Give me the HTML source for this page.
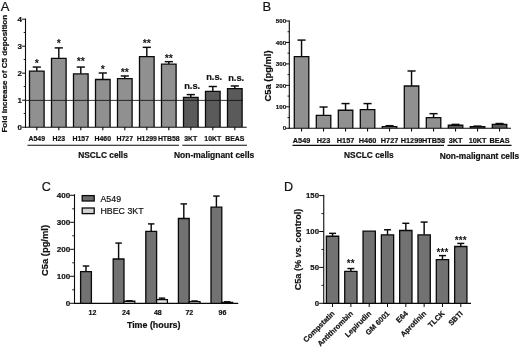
<!DOCTYPE html>
<html><head><meta charset="utf-8"><title>Figure</title>
<style>html,body{margin:0;padding:0;background:#fff}svg{display:block;will-change:transform}</style></head>
<body>
<svg width="520" height="348" viewBox="0 0 520 348" font-family="Liberation Sans, Arial, sans-serif" stroke="#111" stroke-width="0.2">
<rect width="520" height="348" fill="#fff" stroke="none"/>
<text x="0.80" y="10.70" font-size="13" font-weight="normal" text-anchor="start" fill="#111" >A</text>
<text transform="translate(7.00,73.70) rotate(-90)" font-size="8.1" font-weight="bold" text-anchor="middle" fill="#111">Fold increase of C5 deposition</text>
<line x1="36.80" y1="71.11" x2="36.80" y2="67.06" stroke="#0a0a0a" stroke-width="1.45"/>
<line x1="32.71" y1="67.06" x2="40.89" y2="67.06" stroke="#0a0a0a" stroke-width="1.45"/>
<rect x="29.50" y="71.11" width="14.60" height="55.89" fill="#909090" stroke="none"/>
<polyline points="29.50,127.00 29.50,71.11 44.10,71.11 44.10,127.00" fill="none" stroke="#0a0a0a" stroke-width="1.3" stroke-linejoin="miter"/>
<line x1="36.80" y1="127.00" x2="36.80" y2="130.20" stroke="#0a0a0a" stroke-width="1.1"/>
<text x="36.80" y="141.40" font-size="6.9" font-weight="bold" text-anchor="middle" fill="#111" >A549</text>
<text x="36.80" y="67.06" font-size="10.6" font-weight="bold" text-anchor="middle" fill="#111" stroke="none">*</text>
<line x1="58.80" y1="58.42" x2="58.80" y2="47.89" stroke="#0a0a0a" stroke-width="1.45"/>
<line x1="54.71" y1="47.89" x2="62.89" y2="47.89" stroke="#0a0a0a" stroke-width="1.45"/>
<rect x="51.50" y="58.42" width="14.60" height="68.58" fill="#909090" stroke="none"/>
<polyline points="51.50,127.00 51.50,58.42 66.10,58.42 66.10,127.00" fill="none" stroke="#0a0a0a" stroke-width="1.3" stroke-linejoin="miter"/>
<line x1="58.80" y1="127.00" x2="58.80" y2="130.20" stroke="#0a0a0a" stroke-width="1.1"/>
<text x="58.80" y="141.40" font-size="6.9" font-weight="bold" text-anchor="middle" fill="#111" >H23</text>
<text x="58.80" y="46.89" font-size="10.6" font-weight="bold" text-anchor="middle" fill="#111" stroke="none">*</text>
<line x1="80.80" y1="73.81" x2="80.80" y2="67.06" stroke="#0a0a0a" stroke-width="1.45"/>
<line x1="76.71" y1="67.06" x2="84.89" y2="67.06" stroke="#0a0a0a" stroke-width="1.45"/>
<rect x="73.50" y="73.81" width="14.60" height="53.19" fill="#909090" stroke="none"/>
<polyline points="73.50,127.00 73.50,73.81 88.10,73.81 88.10,127.00" fill="none" stroke="#0a0a0a" stroke-width="1.3" stroke-linejoin="miter"/>
<line x1="80.80" y1="127.00" x2="80.80" y2="130.20" stroke="#0a0a0a" stroke-width="1.1"/>
<text x="80.80" y="141.40" font-size="6.9" font-weight="bold" text-anchor="middle" fill="#111" >H157</text>
<text x="80.80" y="64.96" font-size="10.6" font-weight="bold" text-anchor="middle" fill="#111" stroke="none">**</text>
<line x1="102.80" y1="79.48" x2="102.80" y2="73.00" stroke="#0a0a0a" stroke-width="1.45"/>
<line x1="98.71" y1="73.00" x2="106.89" y2="73.00" stroke="#0a0a0a" stroke-width="1.45"/>
<rect x="95.50" y="79.48" width="14.60" height="47.52" fill="#909090" stroke="none"/>
<polyline points="95.50,127.00 95.50,79.48 110.10,79.48 110.10,127.00" fill="none" stroke="#0a0a0a" stroke-width="1.3" stroke-linejoin="miter"/>
<line x1="102.80" y1="127.00" x2="102.80" y2="130.20" stroke="#0a0a0a" stroke-width="1.1"/>
<text x="102.80" y="141.40" font-size="6.9" font-weight="bold" text-anchor="middle" fill="#111" >H460</text>
<text x="102.80" y="72.80" font-size="10.6" font-weight="bold" text-anchor="middle" fill="#111" stroke="none">*</text>
<line x1="124.80" y1="78.67" x2="124.80" y2="75.97" stroke="#0a0a0a" stroke-width="1.45"/>
<line x1="120.71" y1="75.97" x2="128.89" y2="75.97" stroke="#0a0a0a" stroke-width="1.45"/>
<rect x="117.50" y="78.67" width="14.60" height="48.33" fill="#909090" stroke="none"/>
<polyline points="117.50,127.00 117.50,78.67 132.10,78.67 132.10,127.00" fill="none" stroke="#0a0a0a" stroke-width="1.3" stroke-linejoin="miter"/>
<line x1="124.80" y1="127.00" x2="124.80" y2="130.20" stroke="#0a0a0a" stroke-width="1.1"/>
<text x="124.80" y="141.40" font-size="6.9" font-weight="bold" text-anchor="middle" fill="#111" >H727</text>
<text x="124.80" y="76.27" font-size="10.6" font-weight="bold" text-anchor="middle" fill="#111" stroke="none">**</text>
<line x1="146.80" y1="56.53" x2="146.80" y2="47.35" stroke="#0a0a0a" stroke-width="1.45"/>
<line x1="142.71" y1="47.35" x2="150.89" y2="47.35" stroke="#0a0a0a" stroke-width="1.45"/>
<rect x="139.50" y="56.53" width="14.60" height="70.47" fill="#909090" stroke="none"/>
<polyline points="139.50,127.00 139.50,56.53 154.10,56.53 154.10,127.00" fill="none" stroke="#0a0a0a" stroke-width="1.3" stroke-linejoin="miter"/>
<line x1="146.80" y1="127.00" x2="146.80" y2="130.20" stroke="#0a0a0a" stroke-width="1.1"/>
<text x="146.80" y="141.40" font-size="6.9" font-weight="bold" text-anchor="middle" fill="#111" >H1299</text>
<text x="146.80" y="46.55" font-size="10.6" font-weight="bold" text-anchor="middle" fill="#111" stroke="none">**</text>
<line x1="168.80" y1="64.09" x2="168.80" y2="61.66" stroke="#0a0a0a" stroke-width="1.45"/>
<line x1="164.71" y1="61.66" x2="172.89" y2="61.66" stroke="#0a0a0a" stroke-width="1.45"/>
<rect x="161.50" y="64.09" width="14.60" height="62.91" fill="#909090" stroke="none"/>
<polyline points="161.50,127.00 161.50,64.09 176.10,64.09 176.10,127.00" fill="none" stroke="#0a0a0a" stroke-width="1.3" stroke-linejoin="miter"/>
<line x1="168.80" y1="127.00" x2="168.80" y2="130.20" stroke="#0a0a0a" stroke-width="1.1"/>
<text x="168.80" y="141.40" font-size="6.9" font-weight="bold" text-anchor="middle" fill="#111" >HTB58</text>
<text x="168.80" y="61.76" font-size="10.6" font-weight="bold" text-anchor="middle" fill="#111" stroke="none">**</text>
<line x1="190.80" y1="97.30" x2="190.80" y2="94.60" stroke="#0a0a0a" stroke-width="1.45"/>
<line x1="186.71" y1="94.60" x2="194.89" y2="94.60" stroke="#0a0a0a" stroke-width="1.45"/>
<rect x="183.50" y="97.30" width="14.60" height="29.70" fill="#5a5a5a" stroke="none"/>
<polyline points="183.50,127.00 183.50,97.30 198.10,97.30 198.10,127.00" fill="none" stroke="#0a0a0a" stroke-width="1.3" stroke-linejoin="miter"/>
<line x1="190.80" y1="127.00" x2="190.80" y2="130.20" stroke="#0a0a0a" stroke-width="1.1"/>
<text x="190.80" y="141.40" font-size="6.9" font-weight="bold" text-anchor="middle" fill="#111" >3KT</text>
<text x="192.20" y="88.90" font-size="9.3" font-weight="bold" text-anchor="middle" fill="#111" >n.s.</text>
<line x1="212.80" y1="91.36" x2="212.80" y2="86.50" stroke="#0a0a0a" stroke-width="1.45"/>
<line x1="208.71" y1="86.50" x2="216.89" y2="86.50" stroke="#0a0a0a" stroke-width="1.45"/>
<rect x="205.50" y="91.36" width="14.60" height="35.64" fill="#5a5a5a" stroke="none"/>
<polyline points="205.50,127.00 205.50,91.36 220.10,91.36 220.10,127.00" fill="none" stroke="#0a0a0a" stroke-width="1.3" stroke-linejoin="miter"/>
<line x1="212.80" y1="127.00" x2="212.80" y2="130.20" stroke="#0a0a0a" stroke-width="1.1"/>
<text x="212.80" y="141.40" font-size="6.9" font-weight="bold" text-anchor="middle" fill="#111" >10KT</text>
<text x="214.20" y="79.80" font-size="9.3" font-weight="bold" text-anchor="middle" fill="#111" >n.s.</text>
<line x1="234.80" y1="88.66" x2="234.80" y2="85.96" stroke="#0a0a0a" stroke-width="1.45"/>
<line x1="230.71" y1="85.96" x2="238.89" y2="85.96" stroke="#0a0a0a" stroke-width="1.45"/>
<rect x="227.50" y="88.66" width="14.60" height="38.34" fill="#5a5a5a" stroke="none"/>
<polyline points="227.50,127.00 227.50,88.66 242.10,88.66 242.10,127.00" fill="none" stroke="#0a0a0a" stroke-width="1.3" stroke-linejoin="miter"/>
<line x1="234.80" y1="127.00" x2="234.80" y2="130.20" stroke="#0a0a0a" stroke-width="1.1"/>
<text x="234.80" y="141.40" font-size="6.9" font-weight="bold" text-anchor="middle" fill="#111" >BEAS</text>
<text x="236.20" y="80.66" font-size="9.3" font-weight="bold" text-anchor="middle" fill="#111" >n.s.</text>
<line x1="25.50" y1="18.50" x2="25.50" y2="127.50" stroke="#0a0a0a" stroke-width="1.1"/>
<line x1="25.00" y1="127.30" x2="246.70" y2="127.30" stroke="#0a0a0a" stroke-width="1.1"/>
<line x1="25.50" y1="100.40" x2="243.00" y2="100.40" stroke="#0a0a0a" stroke-width="0.8"/>
<line x1="22.10" y1="127.20" x2="25.50" y2="127.20" stroke="#0a0a0a" stroke-width="1.0"/>
<text x="21.90" y="129.80" font-size="8" font-weight="bold" text-anchor="end" fill="#111" >0</text>
<line x1="22.10" y1="100.20" x2="25.50" y2="100.20" stroke="#0a0a0a" stroke-width="1.0"/>
<text x="21.90" y="102.80" font-size="8" font-weight="bold" text-anchor="end" fill="#111" >1</text>
<line x1="22.10" y1="73.20" x2="25.50" y2="73.20" stroke="#0a0a0a" stroke-width="1.0"/>
<text x="21.90" y="75.80" font-size="8" font-weight="bold" text-anchor="end" fill="#111" >2</text>
<line x1="22.10" y1="46.20" x2="25.50" y2="46.20" stroke="#0a0a0a" stroke-width="1.0"/>
<text x="21.90" y="48.80" font-size="8" font-weight="bold" text-anchor="end" fill="#111" >3</text>
<line x1="22.10" y1="19.20" x2="25.50" y2="19.20" stroke="#0a0a0a" stroke-width="1.0"/>
<text x="21.90" y="21.80" font-size="8" font-weight="bold" text-anchor="end" fill="#111" >4</text>
<line x1="23.70" y1="113.50" x2="25.50" y2="113.50" stroke="#0a0a0a" stroke-width="0.9"/>
<line x1="23.70" y1="86.50" x2="25.50" y2="86.50" stroke="#0a0a0a" stroke-width="0.9"/>
<line x1="23.70" y1="59.50" x2="25.50" y2="59.50" stroke="#0a0a0a" stroke-width="0.9"/>
<line x1="23.70" y1="32.50" x2="25.50" y2="32.50" stroke="#0a0a0a" stroke-width="0.9"/>
<line x1="27.50" y1="145.30" x2="179.00" y2="145.30" stroke="#0a0a0a" stroke-width="1.1"/>
<line x1="182.30" y1="145.30" x2="247.00" y2="145.30" stroke="#0a0a0a" stroke-width="1.1"/>
<text x="103.00" y="158.00" font-size="8.35" font-weight="bold" text-anchor="middle" fill="#111" >NSCLC cells</text>
<text x="214.10" y="158.00" font-size="8.45" font-weight="bold" text-anchor="middle" fill="#111" >Non-malignant cells</text>
<text x="262.40" y="10.90" font-size="13" font-weight="normal" text-anchor="start" fill="#111" >B</text>
<text transform="translate(270.80,76.00) rotate(-90)" font-size="9.4" font-weight="bold" text-anchor="middle" fill="#111">C5a (pg/ml)</text>
<line x1="301.55" y1="56.61" x2="301.55" y2="40.09" stroke="#0a0a0a" stroke-width="1.45"/>
<line x1="297.49" y1="40.09" x2="305.61" y2="40.09" stroke="#0a0a0a" stroke-width="1.45"/>
<rect x="294.30" y="56.61" width="14.50" height="71.64" fill="#909090" stroke="none"/>
<polyline points="294.30,128.25 294.30,56.61 308.80,56.61 308.80,128.25" fill="none" stroke="#0a0a0a" stroke-width="1.3" stroke-linejoin="miter"/>
<line x1="301.55" y1="128.25" x2="301.55" y2="131.45" stroke="#0a0a0a" stroke-width="1.1"/>
<text x="301.55" y="142.80" font-size="7.3" font-weight="bold" text-anchor="middle" fill="#111" >A549</text>
<line x1="323.55" y1="115.38" x2="323.55" y2="107.01" stroke="#0a0a0a" stroke-width="1.45"/>
<line x1="319.49" y1="107.01" x2="327.61" y2="107.01" stroke="#0a0a0a" stroke-width="1.45"/>
<rect x="316.30" y="115.38" width="14.50" height="12.87" fill="#909090" stroke="none"/>
<polyline points="316.30,128.25 316.30,115.38 330.80,115.38 330.80,128.25" fill="none" stroke="#0a0a0a" stroke-width="1.3" stroke-linejoin="miter"/>
<line x1="323.55" y1="128.25" x2="323.55" y2="131.45" stroke="#0a0a0a" stroke-width="1.1"/>
<text x="323.55" y="142.80" font-size="7.3" font-weight="bold" text-anchor="middle" fill="#111" >H23</text>
<line x1="345.55" y1="110.23" x2="345.55" y2="103.58" stroke="#0a0a0a" stroke-width="1.45"/>
<line x1="341.49" y1="103.58" x2="349.61" y2="103.58" stroke="#0a0a0a" stroke-width="1.45"/>
<rect x="338.30" y="110.23" width="14.50" height="18.02" fill="#909090" stroke="none"/>
<polyline points="338.30,128.25 338.30,110.23 352.80,110.23 352.80,128.25" fill="none" stroke="#0a0a0a" stroke-width="1.3" stroke-linejoin="miter"/>
<line x1="345.55" y1="128.25" x2="345.55" y2="131.45" stroke="#0a0a0a" stroke-width="1.1"/>
<text x="345.55" y="142.80" font-size="7.3" font-weight="bold" text-anchor="middle" fill="#111" >H157</text>
<line x1="367.55" y1="109.59" x2="367.55" y2="103.58" stroke="#0a0a0a" stroke-width="1.45"/>
<line x1="363.49" y1="103.58" x2="371.61" y2="103.58" stroke="#0a0a0a" stroke-width="1.45"/>
<rect x="360.30" y="109.59" width="14.50" height="18.66" fill="#909090" stroke="none"/>
<polyline points="360.30,128.25 360.30,109.59 374.80,109.59 374.80,128.25" fill="none" stroke="#0a0a0a" stroke-width="1.3" stroke-linejoin="miter"/>
<line x1="367.55" y1="128.25" x2="367.55" y2="131.45" stroke="#0a0a0a" stroke-width="1.1"/>
<text x="367.55" y="142.80" font-size="7.3" font-weight="bold" text-anchor="middle" fill="#111" >H460</text>
<line x1="389.55" y1="126.53" x2="389.55" y2="125.68" stroke="#0a0a0a" stroke-width="1.45"/>
<line x1="385.49" y1="125.68" x2="393.61" y2="125.68" stroke="#0a0a0a" stroke-width="1.45"/>
<rect x="382.30" y="126.53" width="14.50" height="1.72" fill="#909090" stroke="none"/>
<polyline points="382.30,128.25 382.30,126.53 396.80,126.53 396.80,128.25" fill="none" stroke="#0a0a0a" stroke-width="1.3" stroke-linejoin="miter"/>
<line x1="389.55" y1="128.25" x2="389.55" y2="131.45" stroke="#0a0a0a" stroke-width="1.1"/>
<text x="389.55" y="142.80" font-size="7.3" font-weight="bold" text-anchor="middle" fill="#111" >H727</text>
<line x1="411.55" y1="85.99" x2="411.55" y2="70.98" stroke="#0a0a0a" stroke-width="1.45"/>
<line x1="407.49" y1="70.98" x2="415.61" y2="70.98" stroke="#0a0a0a" stroke-width="1.45"/>
<rect x="404.30" y="85.99" width="14.50" height="42.26" fill="#909090" stroke="none"/>
<polyline points="404.30,128.25 404.30,85.99 418.80,85.99 418.80,128.25" fill="none" stroke="#0a0a0a" stroke-width="1.3" stroke-linejoin="miter"/>
<line x1="411.55" y1="128.25" x2="411.55" y2="131.45" stroke="#0a0a0a" stroke-width="1.1"/>
<text x="411.55" y="142.80" font-size="7.3" font-weight="bold" text-anchor="middle" fill="#111" >H1299</text>
<line x1="433.55" y1="117.53" x2="433.55" y2="113.66" stroke="#0a0a0a" stroke-width="1.45"/>
<line x1="429.49" y1="113.66" x2="437.61" y2="113.66" stroke="#0a0a0a" stroke-width="1.45"/>
<rect x="426.30" y="117.53" width="14.50" height="10.72" fill="#909090" stroke="none"/>
<polyline points="426.30,128.25 426.30,117.53 440.80,117.53 440.80,128.25" fill="none" stroke="#0a0a0a" stroke-width="1.3" stroke-linejoin="miter"/>
<line x1="433.55" y1="128.25" x2="433.55" y2="131.45" stroke="#0a0a0a" stroke-width="1.1"/>
<text x="433.55" y="142.80" font-size="7.3" font-weight="bold" text-anchor="middle" fill="#111" >HTB58</text>
<line x1="455.55" y1="125.25" x2="455.55" y2="124.39" stroke="#0a0a0a" stroke-width="1.45"/>
<line x1="451.49" y1="124.39" x2="459.61" y2="124.39" stroke="#0a0a0a" stroke-width="1.45"/>
<rect x="448.30" y="125.25" width="14.50" height="3.00" fill="#5a5a5a" stroke="none"/>
<polyline points="448.30,128.25 448.30,125.25 462.80,125.25 462.80,128.25" fill="none" stroke="#0a0a0a" stroke-width="1.3" stroke-linejoin="miter"/>
<line x1="455.55" y1="128.25" x2="455.55" y2="131.45" stroke="#0a0a0a" stroke-width="1.1"/>
<text x="455.55" y="142.80" font-size="7.3" font-weight="bold" text-anchor="middle" fill="#111" >3KT</text>
<line x1="477.55" y1="126.75" x2="477.55" y2="126.11" stroke="#0a0a0a" stroke-width="1.45"/>
<line x1="473.49" y1="126.11" x2="481.61" y2="126.11" stroke="#0a0a0a" stroke-width="1.45"/>
<rect x="470.30" y="126.75" width="14.50" height="1.50" fill="#5a5a5a" stroke="none"/>
<polyline points="470.30,128.25 470.30,126.75 484.80,126.75 484.80,128.25" fill="none" stroke="#0a0a0a" stroke-width="1.3" stroke-linejoin="miter"/>
<line x1="477.55" y1="128.25" x2="477.55" y2="131.45" stroke="#0a0a0a" stroke-width="1.1"/>
<text x="477.55" y="142.80" font-size="7.3" font-weight="bold" text-anchor="middle" fill="#111" >10KT</text>
<line x1="499.55" y1="124.39" x2="499.55" y2="123.53" stroke="#0a0a0a" stroke-width="1.45"/>
<line x1="495.49" y1="123.53" x2="503.61" y2="123.53" stroke="#0a0a0a" stroke-width="1.45"/>
<rect x="492.30" y="124.39" width="14.50" height="3.86" fill="#5a5a5a" stroke="none"/>
<polyline points="492.30,128.25 492.30,124.39 506.80,124.39 506.80,128.25" fill="none" stroke="#0a0a0a" stroke-width="1.3" stroke-linejoin="miter"/>
<line x1="499.55" y1="128.25" x2="499.55" y2="131.45" stroke="#0a0a0a" stroke-width="1.1"/>
<text x="499.55" y="142.80" font-size="7.3" font-weight="bold" text-anchor="middle" fill="#111" >BEAS</text>
<line x1="289.30" y1="20.50" x2="289.30" y2="128.75" stroke="#0a0a0a" stroke-width="1.1"/>
<line x1="288.80" y1="128.25" x2="511.00" y2="128.25" stroke="#0a0a0a" stroke-width="1.1"/>
<line x1="286.00" y1="128.25" x2="289.30" y2="128.25" stroke="#0a0a0a" stroke-width="1.0"/>
<text x="286.20" y="130.45" font-size="6.2" font-weight="bold" text-anchor="end" fill="#111" >0</text>
<line x1="286.00" y1="106.80" x2="289.30" y2="106.80" stroke="#0a0a0a" stroke-width="1.0"/>
<text x="286.20" y="109.00" font-size="6.2" font-weight="bold" text-anchor="end" fill="#111" >100</text>
<line x1="286.00" y1="85.35" x2="289.30" y2="85.35" stroke="#0a0a0a" stroke-width="1.0"/>
<text x="286.20" y="87.55" font-size="6.2" font-weight="bold" text-anchor="end" fill="#111" >200</text>
<line x1="286.00" y1="63.90" x2="289.30" y2="63.90" stroke="#0a0a0a" stroke-width="1.0"/>
<text x="286.20" y="66.10" font-size="6.2" font-weight="bold" text-anchor="end" fill="#111" >300</text>
<line x1="286.00" y1="42.45" x2="289.30" y2="42.45" stroke="#0a0a0a" stroke-width="1.0"/>
<text x="286.20" y="44.65" font-size="6.2" font-weight="bold" text-anchor="end" fill="#111" >400</text>
<line x1="286.00" y1="21.00" x2="289.30" y2="21.00" stroke="#0a0a0a" stroke-width="1.0"/>
<text x="286.20" y="23.20" font-size="6.2" font-weight="bold" text-anchor="end" fill="#111" >500</text>
<line x1="287.50" y1="117.53" x2="289.30" y2="117.53" stroke="#0a0a0a" stroke-width="0.9"/>
<line x1="287.50" y1="96.08" x2="289.30" y2="96.08" stroke="#0a0a0a" stroke-width="0.9"/>
<line x1="287.50" y1="74.62" x2="289.30" y2="74.62" stroke="#0a0a0a" stroke-width="0.9"/>
<line x1="287.50" y1="53.17" x2="289.30" y2="53.17" stroke="#0a0a0a" stroke-width="0.9"/>
<line x1="287.50" y1="31.73" x2="289.30" y2="31.73" stroke="#0a0a0a" stroke-width="0.9"/>
<line x1="292.50" y1="145.40" x2="444.00" y2="145.40" stroke="#0a0a0a" stroke-width="1.1"/>
<line x1="447.50" y1="145.40" x2="511.50" y2="145.40" stroke="#0a0a0a" stroke-width="1.1"/>
<text x="368.90" y="158.30" font-size="8.35" font-weight="bold" text-anchor="middle" fill="#111" >NSCLC cells</text>
<text x="479.50" y="158.50" font-size="8.4" font-weight="bold" text-anchor="middle" fill="#111" >Non-malignant cells</text>
<text x="41.80" y="191.20" font-size="12.6" font-weight="normal" text-anchor="start" fill="#111" >C</text>
<text transform="translate(48.00,250.50) rotate(-90)" font-size="9.4" font-weight="bold" text-anchor="middle" fill="#111">C5a (pg/ml)</text>
<line x1="86.00" y1="271.68" x2="86.00" y2="266.01" stroke="#0a0a0a" stroke-width="1.45"/>
<line x1="82.75" y1="266.01" x2="89.25" y2="266.01" stroke="#0a0a0a" stroke-width="1.45"/>
<rect x="80.60" y="271.68" width="10.80" height="31.32" fill="#727272" stroke="none"/>
<polyline points="80.60,303.00 80.60,271.68 91.40,271.68 91.40,303.00" fill="none" stroke="#0a0a0a" stroke-width="1.3" stroke-linejoin="miter"/>
<text x="92.50" y="315.10" font-size="7.0" font-weight="bold" text-anchor="middle" fill="#111" >12</text>
<line x1="118.60" y1="258.99" x2="118.60" y2="243.06" stroke="#0a0a0a" stroke-width="1.45"/>
<line x1="115.35" y1="243.06" x2="121.85" y2="243.06" stroke="#0a0a0a" stroke-width="1.45"/>
<rect x="113.20" y="258.99" width="10.80" height="44.01" fill="#727272" stroke="none"/>
<polyline points="113.20,303.00 113.20,258.99 124.00,258.99 124.00,303.00" fill="none" stroke="#0a0a0a" stroke-width="1.3" stroke-linejoin="miter"/>
<line x1="129.40" y1="301.25" x2="129.40" y2="300.84" stroke="#0a0a0a" stroke-width="1.45"/>
<line x1="126.15" y1="300.84" x2="132.65" y2="300.84" stroke="#0a0a0a" stroke-width="1.45"/>
<rect x="124.00" y="301.25" width="10.80" height="1.75" fill="#e6e6e6" stroke="none"/>
<polyline points="124.00,303.00 124.00,301.25 134.80,301.25 134.80,303.00" fill="none" stroke="#0a0a0a" stroke-width="1.3" stroke-linejoin="miter"/>
<text x="126.00" y="315.10" font-size="7.0" font-weight="bold" text-anchor="middle" fill="#111" >24</text>
<line x1="151.20" y1="231.45" x2="151.20" y2="223.89" stroke="#0a0a0a" stroke-width="1.45"/>
<line x1="147.95" y1="223.89" x2="154.45" y2="223.89" stroke="#0a0a0a" stroke-width="1.45"/>
<rect x="145.80" y="231.45" width="10.80" height="71.55" fill="#727272" stroke="none"/>
<polyline points="145.80,303.00 145.80,231.45 156.60,231.45 156.60,303.00" fill="none" stroke="#0a0a0a" stroke-width="1.3" stroke-linejoin="miter"/>
<line x1="162.00" y1="299.62" x2="162.00" y2="298.14" stroke="#0a0a0a" stroke-width="1.45"/>
<line x1="158.75" y1="298.14" x2="165.25" y2="298.14" stroke="#0a0a0a" stroke-width="1.45"/>
<rect x="156.60" y="299.62" width="10.80" height="3.38" fill="#e6e6e6" stroke="none"/>
<polyline points="156.60,303.00 156.60,299.62 167.40,299.62 167.40,303.00" fill="none" stroke="#0a0a0a" stroke-width="1.3" stroke-linejoin="miter"/>
<text x="157.80" y="315.10" font-size="7.0" font-weight="bold" text-anchor="middle" fill="#111" >48</text>
<line x1="183.80" y1="218.49" x2="183.80" y2="203.91" stroke="#0a0a0a" stroke-width="1.45"/>
<line x1="180.55" y1="203.91" x2="187.05" y2="203.91" stroke="#0a0a0a" stroke-width="1.45"/>
<rect x="178.40" y="218.49" width="10.80" height="84.51" fill="#727272" stroke="none"/>
<polyline points="178.40,303.00 178.40,218.49 189.20,218.49 189.20,303.00" fill="none" stroke="#0a0a0a" stroke-width="1.3" stroke-linejoin="miter"/>
<line x1="194.60" y1="301.65" x2="194.60" y2="300.98" stroke="#0a0a0a" stroke-width="1.45"/>
<line x1="191.35" y1="300.98" x2="197.85" y2="300.98" stroke="#0a0a0a" stroke-width="1.45"/>
<rect x="189.20" y="301.65" width="10.80" height="1.35" fill="#e6e6e6" stroke="none"/>
<polyline points="189.20,303.00 189.20,301.65 200.00,301.65 200.00,303.00" fill="none" stroke="#0a0a0a" stroke-width="1.3" stroke-linejoin="miter"/>
<text x="189.30" y="315.10" font-size="7.0" font-weight="bold" text-anchor="middle" fill="#111" >72</text>
<line x1="216.40" y1="207.15" x2="216.40" y2="196.08" stroke="#0a0a0a" stroke-width="1.45"/>
<line x1="213.15" y1="196.08" x2="219.65" y2="196.08" stroke="#0a0a0a" stroke-width="1.45"/>
<rect x="211.00" y="207.15" width="10.80" height="95.85" fill="#727272" stroke="none"/>
<polyline points="211.00,303.00 211.00,207.15 221.80,207.15 221.80,303.00" fill="none" stroke="#0a0a0a" stroke-width="1.3" stroke-linejoin="miter"/>
<line x1="227.20" y1="302.32" x2="227.20" y2="301.79" stroke="#0a0a0a" stroke-width="1.45"/>
<line x1="223.95" y1="301.79" x2="230.45" y2="301.79" stroke="#0a0a0a" stroke-width="1.45"/>
<rect x="221.80" y="302.32" width="10.80" height="0.68" fill="#e6e6e6" stroke="none"/>
<polyline points="221.80,303.00 221.80,302.32 232.60,302.32 232.60,303.00" fill="none" stroke="#0a0a0a" stroke-width="1.3" stroke-linejoin="miter"/>
<text x="222.50" y="315.10" font-size="7.0" font-weight="bold" text-anchor="middle" fill="#111" >96</text>
<line x1="74.50" y1="194.20" x2="74.50" y2="303.50" stroke="#0a0a0a" stroke-width="1.1"/>
<line x1="74.00" y1="303.40" x2="238.20" y2="303.40" stroke="#0a0a0a" stroke-width="1.1"/>
<line x1="70.10" y1="303.30" x2="74.50" y2="303.30" stroke="#0a0a0a" stroke-width="1.0"/>
<text x="70.30" y="306.00" font-size="8.1" font-weight="bold" text-anchor="end" fill="#111" >0</text>
<line x1="70.10" y1="276.30" x2="74.50" y2="276.30" stroke="#0a0a0a" stroke-width="1.0"/>
<text x="70.30" y="279.00" font-size="8.1" font-weight="bold" text-anchor="end" fill="#111" >100</text>
<line x1="70.10" y1="249.30" x2="74.50" y2="249.30" stroke="#0a0a0a" stroke-width="1.0"/>
<text x="70.30" y="252.00" font-size="8.1" font-weight="bold" text-anchor="end" fill="#111" >200</text>
<line x1="70.10" y1="222.30" x2="74.50" y2="222.30" stroke="#0a0a0a" stroke-width="1.0"/>
<text x="70.30" y="225.00" font-size="8.1" font-weight="bold" text-anchor="end" fill="#111" >300</text>
<line x1="70.10" y1="195.30" x2="74.50" y2="195.30" stroke="#0a0a0a" stroke-width="1.0"/>
<text x="70.30" y="198.00" font-size="8.1" font-weight="bold" text-anchor="end" fill="#111" >400</text>
<line x1="72.20" y1="289.80" x2="74.50" y2="289.80" stroke="#0a0a0a" stroke-width="0.9"/>
<line x1="72.20" y1="262.80" x2="74.50" y2="262.80" stroke="#0a0a0a" stroke-width="0.9"/>
<line x1="72.20" y1="235.80" x2="74.50" y2="235.80" stroke="#0a0a0a" stroke-width="0.9"/>
<line x1="72.20" y1="208.80" x2="74.50" y2="208.80" stroke="#0a0a0a" stroke-width="0.9"/>
<rect x="82.20" y="195.60" width="12.00" height="5.40" fill="#6c6c6c" stroke="#0a0a0a" stroke-width="1.3"/>
<rect x="82.20" y="208.00" width="12.00" height="5.60" fill="#d4d4d4" stroke="#0a0a0a" stroke-width="1.3"/>
<text x="100.50" y="201.50" font-size="8.8" font-weight="normal" text-anchor="start" fill="#111" >A549</text>
<text x="100.50" y="214.00" font-size="8.8" font-weight="normal" text-anchor="start" fill="#111" >HBEC 3KT</text>
<text x="153.70" y="328.10" font-size="8.9" font-weight="bold" text-anchor="middle" fill="#111" >Time (hours)</text>
<text x="284.00" y="191.40" font-size="12.6" font-weight="normal" text-anchor="start" fill="#111" >D</text>
<text transform="translate(300.7,249.5) rotate(-90)" font-size="9.05" font-weight="bold" text-anchor="middle" fill="#111">C5a (% <tspan font-style="italic">vs.</tspan> control)</text>
<line x1="332.55" y1="236.23" x2="332.55" y2="233.35" stroke="#0a0a0a" stroke-width="1.45"/>
<line x1="329.05" y1="233.35" x2="336.05" y2="233.35" stroke="#0a0a0a" stroke-width="1.45"/>
<rect x="326.40" y="236.23" width="12.30" height="66.77" fill="#727272" stroke="none"/>
<polyline points="326.40,303.00 326.40,236.23 338.70,236.23 338.70,303.00" fill="none" stroke="#0a0a0a" stroke-width="1.3" stroke-linejoin="miter"/>
<line x1="332.55" y1="303.00" x2="332.55" y2="307.00" stroke="#0a0a0a" stroke-width="1.0"/>
<text transform="translate(335.05,314.00) rotate(-45)" font-size="7.4" font-weight="bold" text-anchor="end" fill="#111">Compstatin</text>
<line x1="350.87" y1="271.41" x2="350.87" y2="268.54" stroke="#0a0a0a" stroke-width="1.45"/>
<line x1="347.37" y1="268.54" x2="354.37" y2="268.54" stroke="#0a0a0a" stroke-width="1.45"/>
<rect x="344.72" y="271.41" width="12.30" height="31.59" fill="#727272" stroke="none"/>
<polyline points="344.72,303.00 344.72,271.41 357.02,271.41 357.02,303.00" fill="none" stroke="#0a0a0a" stroke-width="1.3" stroke-linejoin="miter"/>
<line x1="350.87" y1="303.00" x2="350.87" y2="307.00" stroke="#0a0a0a" stroke-width="1.0"/>
<text transform="translate(353.37,314.00) rotate(-45)" font-size="7.4" font-weight="bold" text-anchor="end" fill="#111">Antithrombin</text>
<text x="350.87" y="267.34" font-size="10" font-weight="bold" text-anchor="middle" fill="#111" stroke="none" letter-spacing="0.15">**</text>
<rect x="363.04" y="231.20" width="12.30" height="71.80" fill="#727272" stroke="none"/>
<polyline points="363.04,303.00 363.04,231.20 375.34,231.20 375.34,303.00" fill="none" stroke="#0a0a0a" stroke-width="1.3" stroke-linejoin="miter"/>
<line x1="369.19" y1="303.00" x2="369.19" y2="307.00" stroke="#0a0a0a" stroke-width="1.0"/>
<text transform="translate(371.69,314.00) rotate(-45)" font-size="7.4" font-weight="bold" text-anchor="end" fill="#111">Lepirudin</text>
<line x1="387.51" y1="234.79" x2="387.51" y2="229.76" stroke="#0a0a0a" stroke-width="1.45"/>
<line x1="384.01" y1="229.76" x2="391.01" y2="229.76" stroke="#0a0a0a" stroke-width="1.45"/>
<rect x="381.36" y="234.79" width="12.30" height="68.21" fill="#727272" stroke="none"/>
<polyline points="381.36,303.00 381.36,234.79 393.66,234.79 393.66,303.00" fill="none" stroke="#0a0a0a" stroke-width="1.3" stroke-linejoin="miter"/>
<line x1="387.51" y1="303.00" x2="387.51" y2="307.00" stroke="#0a0a0a" stroke-width="1.0"/>
<text transform="translate(390.01,314.00) rotate(-45)" font-size="7.4" font-weight="bold" text-anchor="end" fill="#111">GM 6001</text>
<line x1="405.83" y1="230.48" x2="405.83" y2="223.30" stroke="#0a0a0a" stroke-width="1.45"/>
<line x1="402.33" y1="223.30" x2="409.33" y2="223.30" stroke="#0a0a0a" stroke-width="1.45"/>
<rect x="399.68" y="230.48" width="12.30" height="72.52" fill="#727272" stroke="none"/>
<polyline points="399.68,303.00 399.68,230.48 411.98,230.48 411.98,303.00" fill="none" stroke="#0a0a0a" stroke-width="1.3" stroke-linejoin="miter"/>
<line x1="405.83" y1="303.00" x2="405.83" y2="307.00" stroke="#0a0a0a" stroke-width="1.0"/>
<text transform="translate(408.33,314.00) rotate(-45)" font-size="7.4" font-weight="bold" text-anchor="end" fill="#111">E64</text>
<line x1="424.15" y1="234.79" x2="424.15" y2="222.08" stroke="#0a0a0a" stroke-width="1.45"/>
<line x1="420.65" y1="222.08" x2="427.65" y2="222.08" stroke="#0a0a0a" stroke-width="1.45"/>
<rect x="418.00" y="234.79" width="12.30" height="68.21" fill="#727272" stroke="none"/>
<polyline points="418.00,303.00 418.00,234.79 430.30,234.79 430.30,303.00" fill="none" stroke="#0a0a0a" stroke-width="1.3" stroke-linejoin="miter"/>
<line x1="424.15" y1="303.00" x2="424.15" y2="307.00" stroke="#0a0a0a" stroke-width="1.0"/>
<text transform="translate(426.65,314.00) rotate(-45)" font-size="7.4" font-weight="bold" text-anchor="end" fill="#111">Aprotinin</text>
<line x1="442.47" y1="259.56" x2="442.47" y2="255.61" stroke="#0a0a0a" stroke-width="1.45"/>
<line x1="438.97" y1="255.61" x2="445.97" y2="255.61" stroke="#0a0a0a" stroke-width="1.45"/>
<rect x="436.32" y="259.56" width="12.30" height="43.44" fill="#727272" stroke="none"/>
<polyline points="436.32,303.00 436.32,259.56 448.62,259.56 448.62,303.00" fill="none" stroke="#0a0a0a" stroke-width="1.3" stroke-linejoin="miter"/>
<line x1="442.47" y1="303.00" x2="442.47" y2="307.00" stroke="#0a0a0a" stroke-width="1.0"/>
<text transform="translate(444.97,314.00) rotate(-45)" font-size="7.4" font-weight="bold" text-anchor="end" fill="#111">TLCK</text>
<text x="442.47" y="255.81" font-size="10" font-weight="bold" text-anchor="middle" fill="#111" stroke="none" letter-spacing="0.15">***</text>
<line x1="460.79" y1="246.49" x2="460.79" y2="243.41" stroke="#0a0a0a" stroke-width="1.45"/>
<line x1="457.29" y1="243.41" x2="464.29" y2="243.41" stroke="#0a0a0a" stroke-width="1.45"/>
<rect x="454.64" y="246.49" width="12.30" height="56.51" fill="#727272" stroke="none"/>
<polyline points="454.64,303.00 454.64,246.49 466.94,246.49 466.94,303.00" fill="none" stroke="#0a0a0a" stroke-width="1.3" stroke-linejoin="miter"/>
<line x1="460.79" y1="303.00" x2="460.79" y2="307.00" stroke="#0a0a0a" stroke-width="1.0"/>
<text transform="translate(463.29,314.00) rotate(-45)" font-size="7.4" font-weight="bold" text-anchor="end" fill="#111">SBTI</text>
<text x="460.79" y="244.01" font-size="10" font-weight="bold" text-anchor="middle" fill="#111" stroke="none" letter-spacing="0.15">***</text>
<line x1="323.75" y1="194.70" x2="323.75" y2="303.50" stroke="#0a0a0a" stroke-width="1.1"/>
<line x1="323.25" y1="303.40" x2="471.00" y2="303.40" stroke="#0a0a0a" stroke-width="1.1"/>
<line x1="319.15" y1="303.30" x2="323.75" y2="303.30" stroke="#0a0a0a" stroke-width="1.0"/>
<text x="319.05" y="306.00" font-size="7.8" font-weight="bold" text-anchor="end" fill="#111" >0</text>
<line x1="319.15" y1="267.40" x2="323.75" y2="267.40" stroke="#0a0a0a" stroke-width="1.0"/>
<text x="319.05" y="270.10" font-size="7.8" font-weight="bold" text-anchor="end" fill="#111" >50</text>
<line x1="319.15" y1="231.50" x2="323.75" y2="231.50" stroke="#0a0a0a" stroke-width="1.0"/>
<text x="319.05" y="234.20" font-size="7.8" font-weight="bold" text-anchor="end" fill="#111" >100</text>
<line x1="319.15" y1="195.60" x2="323.75" y2="195.60" stroke="#0a0a0a" stroke-width="1.0"/>
<text x="319.05" y="198.30" font-size="7.8" font-weight="bold" text-anchor="end" fill="#111" >150</text>
<line x1="321.45" y1="285.35" x2="323.75" y2="285.35" stroke="#0a0a0a" stroke-width="0.9"/>
<line x1="321.45" y1="249.45" x2="323.75" y2="249.45" stroke="#0a0a0a" stroke-width="0.9"/>
<line x1="321.45" y1="213.55" x2="323.75" y2="213.55" stroke="#0a0a0a" stroke-width="0.9"/>
</svg>
</body></html>
